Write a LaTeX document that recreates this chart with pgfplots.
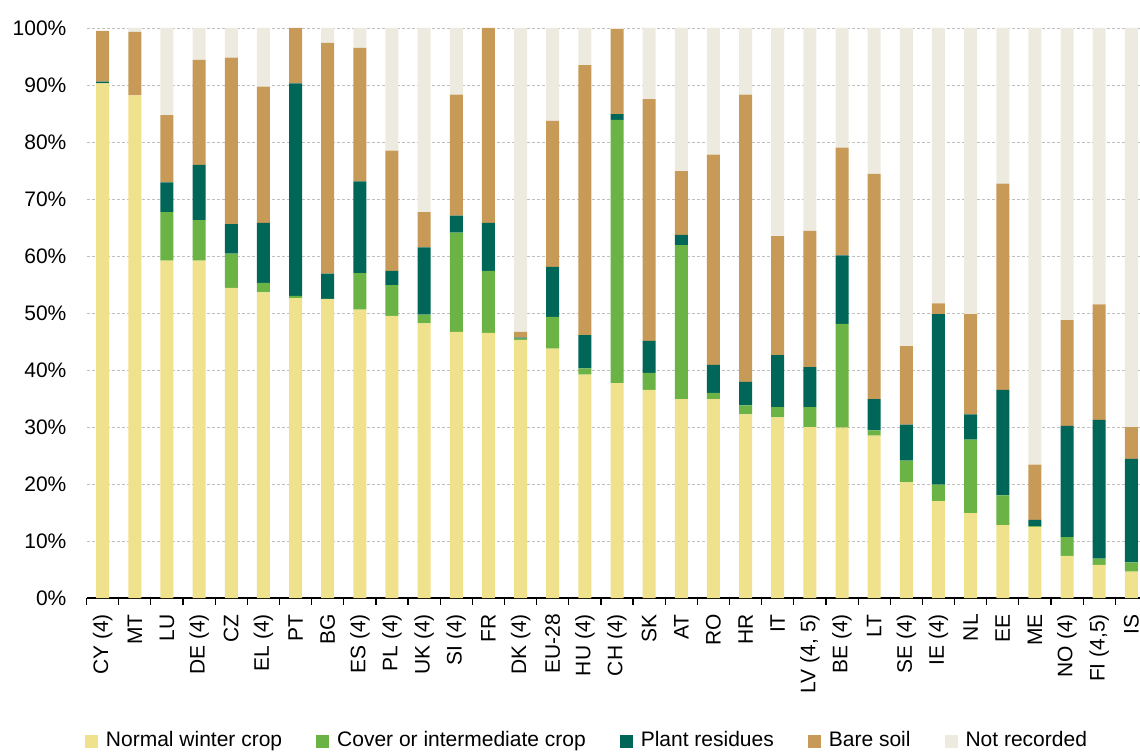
\documentclass[border=0pt]{standalone}
\usepackage{pgfplots}
\pgfplotsset{compat=1.18}
\usepackage{pgfplotstable}
\usepackage{fontspec}
\setmainfont{Liberation Sans}
\definecolor{cwin}{RGB}{240,225,140}
\definecolor{ccov}{RGB}{106,179,68}
\definecolor{cres}{RGB}{0,102,88}
\definecolor{cbare}{RGB}{200,154,88}
\definecolor{cnr}{RGB}{237,235,224}
\pgfplotstableread{
x a b c d e
0 90.3 0 0.3 8.9 0
1 88.2 0 0 11.1 0.7
2 59.2 8.5 5.2 11.8 15.3
3 59.2 7.1 9.7 18.4 5.6
4 54.4 6.0 5.2 29.2 5.2
5 53.6 1.7 10.5 23.9 10.3
6 52.6 0.4 37.3 9.7 0
7 52.5 0 4.4 40.5 2.6
8 50.6 6.4 16.1 23.4 3.5
9 49.5 5.4 2.5 21.1 21.5
10 48.2 1.5 11.8 6.2 32.3
11 46.7 17.4 3.0 21.2 11.7
12 46.5 10.9 8.4 34.2 0
13 45.3 0.2 0.2 1.0 53.3
14 43.75 5.55 8.8 25.6 16.3
15 39.2 1.1 5.8 47.4 6.5
16 37.7 46.2 1.0 14.9 0.2
17 36.5 3.0 5.6 42.4 12.5
18 34.9 27.0 1.8 11.2 25.1
19 34.9 1.1 4.9 36.9 22.2
20 32.2 1.6 4.1 50.4 11.7
21 31.7 1.8 9.1 20.9 36.5
22 30.0 3.5 7.0 23.9 35.6
23 29.9 18.2 12.0 18.9 21.0
24 28.5 0.9 5.5 39.5 25.6
25 20.3 3.8 6.3 13.8 55.8
26 17.0 2.9 29.9 1.9 48.3
27 14.9 12.9 4.4 17.6 50.2
28 12.8 5.2 18.5 36.2 27.3
29 12.5 0.1 1.1 9.7 76.6
30 7.4 3.3 19.5 18.55 51.25
31 5.8 1.1 24.35 20.25 48.5
32 4.65 1.6 18.15 5.6 70.0
}\data
\begin{document}
\begin{tikzpicture}
\path[use as bounding box] (-86.6pt,-155pt) rectangle (1053.4pt,598pt);
\begin{axis}[
  at={(0,0)}, anchor=south west,
  scale only axis, width=1053.4pt, height=570pt,
  ybar stacked, bar width=13pt,
  xmin=-0.5, xmax=32.27, ymin=0, ymax=100,
  axis x line*=bottom, axis y line*=left,
  y axis line style={draw=none},
  x axis line style={black, line width=1.2pt},
  xtick={0,...,32},
  xticklabels={CY (4),MT,LU,DE (4),CZ,EL (4),PT,BG,ES (4),PL (4),UK (4),SI (4),FR,DK (4),EU-28,HU (4),CH (4),SK,AT,RO,HR,IT,{LV (4, 5)},BE (4),LT,SE (4),IE (4),NL,EE,ME,NO (4),{FI (4,5)},IS},
  minor xtick={-0.5,0.5,...,31.5},
  major tick length=0pt, minor tick length=7pt, tick align=outside,
  minor tick style={black, line width=1.2pt},
  ytick={0,10,...,100},
  ymajorgrids, grid style={densely dashed, black!25, line width=0.6pt},
  ytick style={draw=none},
  /pgf/number format/assume math mode=true,
  yticklabel={\pgfmathprintnumber{\tick}\%},
  tick label style={font=\fontsize{21}{25}\selectfont},
  yticklabel style={inner sep=0pt, xshift=-20pt},
  xticklabel style={rotate=90, anchor=east, inner sep=0pt, xshift=-16pt},
  legend columns=5,
  legend style={draw=none, at={(0.475,-0.249)}, anchor=center,
    font=\fontsize{21}{25}\selectfont,
    /tikz/every odd column/.append style={column sep=6pt},
    /tikz/every even column/.append style={column sep=32pt}},
  legend image code/.code={\path[#1] (0pt,-8pt) rectangle (13pt,5pt);},
]
\addplot[fill=cwin, draw=none] table[x=x,y=a]{\data};
\addplot[fill=ccov, draw=none] table[x=x,y=b]{\data};
\addplot[fill=cres, draw=none] table[x=x,y=c]{\data};
\addplot[fill=cbare, draw=none] table[x=x,y=d]{\data};
\addplot[fill=cnr, draw=none] table[x=x,y=e]{\data};
\legend{Normal winter crop,Cover or intermediate crop,Plant residues,Bare soil,Not recorded}
\end{axis}
\end{tikzpicture}
\end{document}
